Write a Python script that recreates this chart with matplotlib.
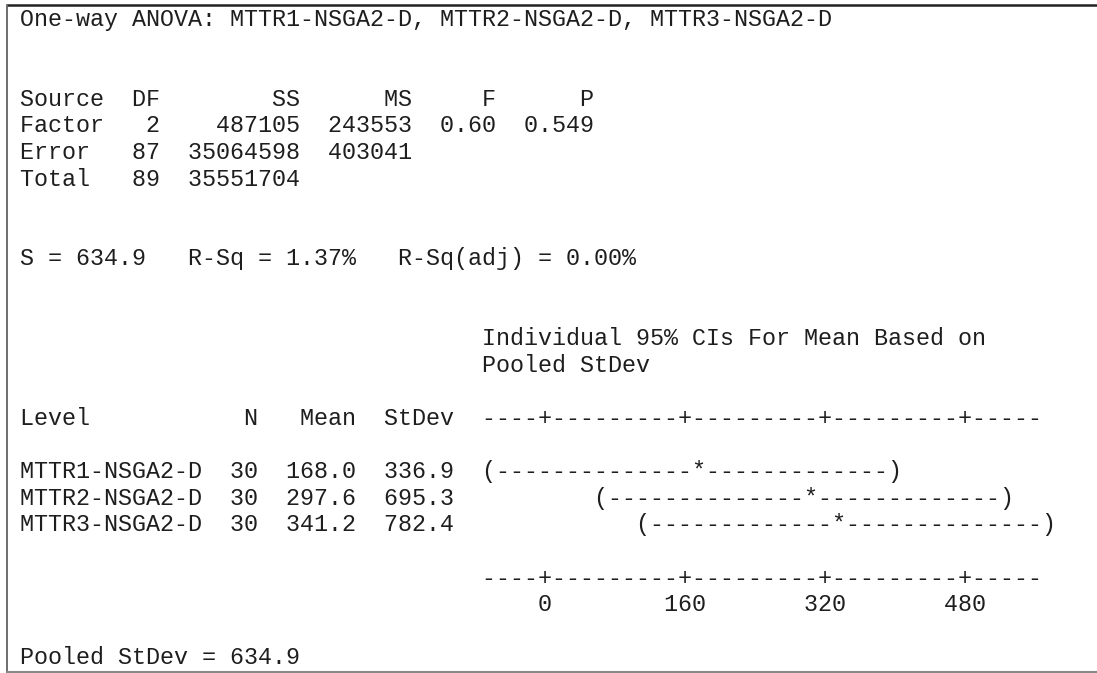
import numpy as np
import matplotlib
matplotlib.use("Agg")
import matplotlib.pyplot as plt

title = "One-way ANOVA: MTTR1-NSGA2-D, MTTR2-NSGA2-D, MTTR3-NSGA2-D"

sources = ["Factor", "Error", "Total"]
dfs = [2, 87, 89]
ss = [487105, 35064598, 35551704]
ms = [243553, 403041, None]
f_value = 0.60
p_value = 0.549

s_value = 634.9
r_sq = 1.37
r_sq_adj = 0.00

levels = ["MTTR1-NSGA2-D", "MTTR2-NSGA2-D", "MTTR3-NSGA2-D"]
n_obs = [30, 30, 30]
means = [168.0, 297.6, 341.2]
stdevs = [336.9, 695.3, 782.4]
pooled_sd = 634.9
t_crit = 1.9876  # t(0.975, 87)

scale_ticks = [0, 160, 320, 480]

# ---- text layout (Minitab character grid) ----
WIDTH = 80
SCALE_START, SCALE_LEN = 33, 40
ZERO_COL, UNITS_PER_COL = 37, 16.0


def blank():
    return [" "] * WIDTH


def put(row, col, s):
    for i, ch in enumerate(s):
        row[col + i] = ch


def put_r(row, end_col, s):
    put(row, end_col - len(s) + 1, s)


def to_col(v):
    return int(np.floor(ZERO_COL + v / UNITS_PER_COL + 0.5))


lines = []
r = blank(); put(r, 0, title); lines.append(r)
lines += [blank(), blank()]

r = blank()
put(r, 0, "Source"); put_r(r, 9, "DF"); put_r(r, 19, "SS")
put_r(r, 27, "MS"); put_r(r, 33, "F"); put_r(r, 40, "P")
lines.append(r)
for i, src in enumerate(sources):
    r = blank()
    put(r, 0, src); put_r(r, 9, str(dfs[i])); put_r(r, 19, str(ss[i]))
    if ms[i] is not None:
        put_r(r, 27, str(ms[i]))
    if i == 0:
        put_r(r, 33, f"{f_value:.2f}"); put_r(r, 40, f"{p_value:.3f}")
    lines.append(r)
lines += [blank(), blank()]

r = blank()
put(r, 0, f"S = {s_value:.1f}   R-Sq = {r_sq:.2f}%   R-Sq(adj) = {r_sq_adj:.2f}%")
lines.append(r)
lines += [blank(), blank()]

r = blank(); put(r, SCALE_START, "Individual 95% CIs For Mean Based on"); lines.append(r)
r = blank(); put(r, SCALE_START, "Pooled StDev"); lines.append(r)
lines.append(blank())

scale = blank()
put(scale, SCALE_START, "-" * SCALE_LEN)
for v in scale_ticks:
    scale[to_col(v)] = "+"

r = blank()
put(r, 0, "Level"); put_r(r, 16, "N"); put_r(r, 23, "Mean"); put_r(r, 30, "StDev")
put(r, SCALE_START, "".join(scale[SCALE_START:SCALE_START + SCALE_LEN]))
lines.append(r)
lines.append(blank())

half = t_crit * pooled_sd / np.sqrt(n_obs[0])
for i, lv in enumerate(levels):
    r = blank()
    put(r, 0, lv); put_r(r, 16, str(n_obs[i]))
    put_r(r, 23, f"{means[i]:.1f}"); put_r(r, 30, f"{stdevs[i]:.1f}")
    lo, hi, mid = to_col(means[i] - half), to_col(means[i] + half), to_col(means[i])
    put(r, lo, "(" + "-" * (hi - lo - 1) + ")")
    r[mid] = "*"
    lines.append(r)
lines.append(blank())

lines.append(scale)
r = blank()
for v in scale_ticks:
    lab = str(v)
    put(r, to_col(v) - (len(lab) - 1) // 2, lab)
lines.append(r)
lines.append(blank())

r = blank(); put(r, 0, f"Pooled StDev = {pooled_sd:.1f}"); lines.append(r)

# ---- draw ----
W, H = 1097, 673
fig = plt.figure(figsize=(W / 100, H / 100), dpi=100)
ax = fig.add_axes([0, 0, 1, 1])
ax.set_xlim(0, W)
ax.set_ylim(H, 0)
ax.axis("off")

char_w = 14.0
font_pt = char_w / 0.6 * 72 / 100
x0, y0, dy = 19.5, 26.0, 26.6
for i, row in enumerate(lines):
    txt = "".join(row).rstrip()
    if txt:
        ax.text(x0, y0 + i * dy, txt, family="Liberation Mono", fontsize=font_pt,
                color="#1e1e1e", ha="left", va="baseline")

# frame of the session window
ax.plot([7, W], [5, 5], color="#222222", lw=1.8, solid_capstyle="butt")
ax.plot([7, 7], [5, 671.5], color="#555555", lw=1.2)
ax.plot([7, W], [671.5, 671.5], color="#888888", lw=1.5)

fig.savefig("out.png", dpi=100)
